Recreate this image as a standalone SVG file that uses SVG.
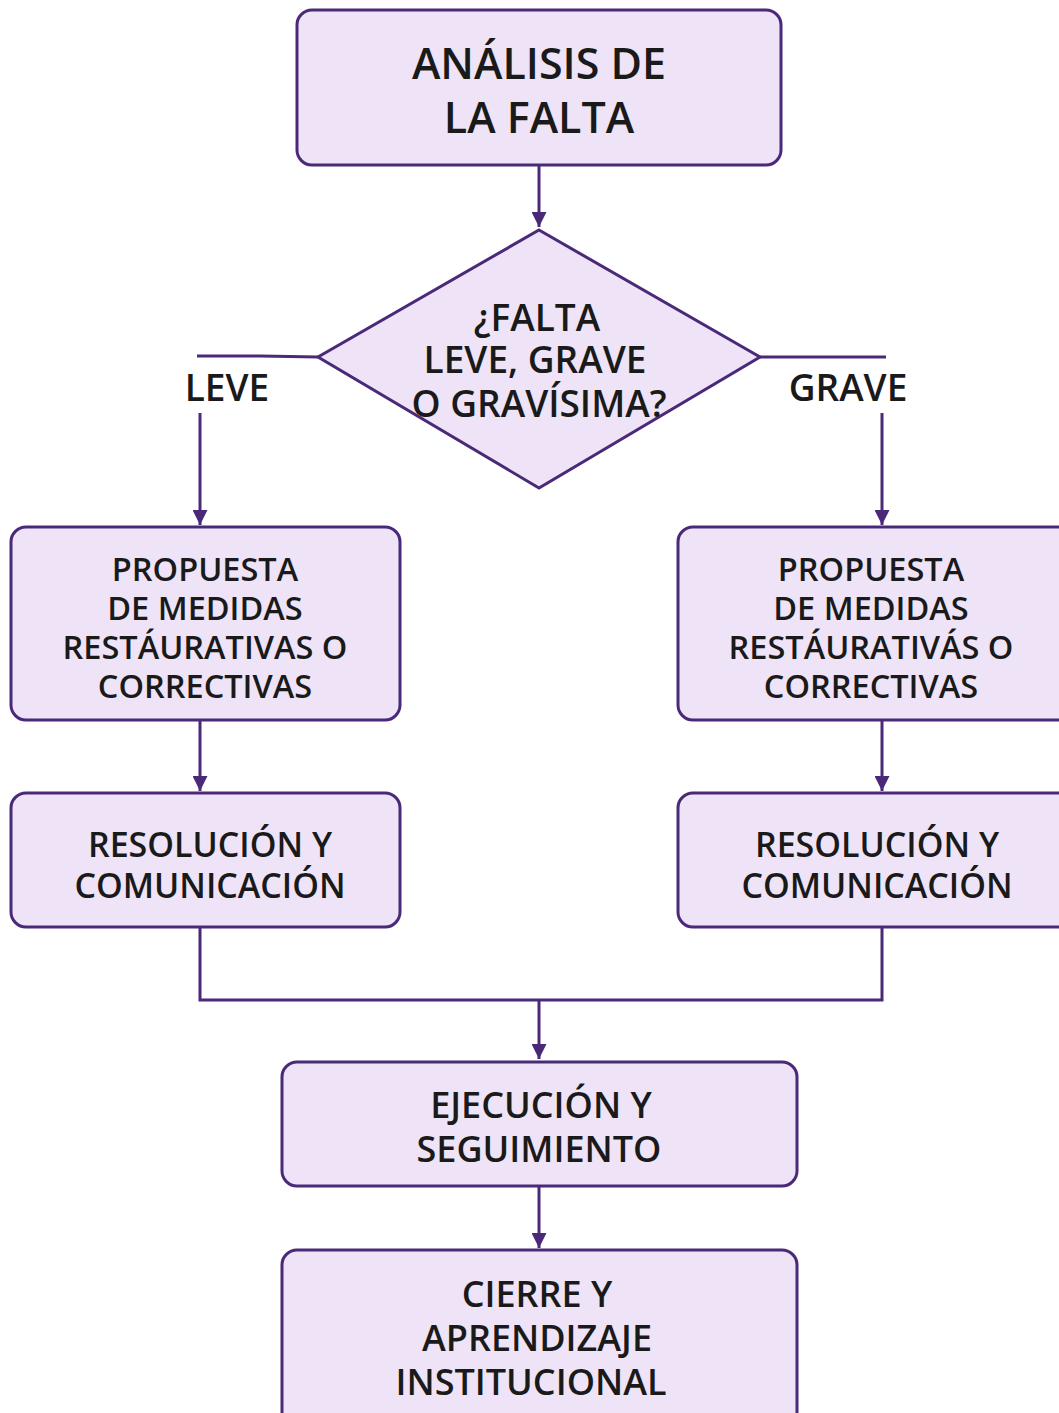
<svg xmlns="http://www.w3.org/2000/svg" width="1059" height="1413" viewBox="0 0 1059 1413">
<defs>
<marker id="ah" viewBox="0 0 10 10" refX="10" refY="5" markerWidth="5" markerHeight="5" markerUnits="strokeWidth" orient="auto">
<path d="M0,0 L10,5 L0,10 z" fill="#4a2a78"/>
</marker>
<style>
.box{fill:#efe4f7;stroke:#4a2a78;stroke-width:3}
.t{font-family:"Open Sans","Noto Sans",sans-serif;font-weight:600;fill:#1a1a1a;text-anchor:middle}
.c{fill:none;stroke:#4a2a78;stroke-width:3}
</style>
</defs>
<rect width="1059" height="1413" fill="#ffffff"/>
<g id="connectors">
<line class="c" x1="539" y1="165" x2="539" y2="227" marker-end="url(#ah)"/>
<polyline class="c" points="318,357 260,356 197,356"/>
<polyline class="c" points="760,357 886,357"/>
<line class="c" x1="200" y1="413" x2="200" y2="525" marker-end="url(#ah)"/>
<line class="c" x1="882" y1="413" x2="882" y2="525" marker-end="url(#ah)"/>
<line class="c" x1="200" y1="720" x2="200" y2="791" marker-end="url(#ah)"/>
<line class="c" x1="882" y1="720" x2="882" y2="791" marker-end="url(#ah)"/>
<polyline class="c" points="200,927 200,1000 882,1000 882,927"/>
<line class="c" x1="539" y1="1000" x2="539" y2="1059" marker-end="url(#ah)"/>
<line class="c" x1="539" y1="1186" x2="539" y2="1248" marker-end="url(#ah)"/>
</g>
<g id="n-analisis">
<rect class="box" x="297" y="10" width="484" height="155" rx="15"/>
<text class="t" font-size="43" x="539" y="79">ANÁLISIS DE</text>
<text class="t" font-size="43" x="539" y="133">LA FALTA</text>
</g>
<g id="n-decision">
<polygon class="box" points="539,230 760,357 539,488 318,357"/>
<text class="t" font-size="37" x="537" y="331">¿FALTA</text>
<text class="t" font-size="37" x="535" y="373">LEVE, GRAVE</text>
<text class="t" font-size="37" x="539" y="417">O GRAVÍSIMA?</text>
</g>
<g id="l-leve"><text class="t" font-size="37" x="227" y="401">LEVE</text></g>
<g id="l-grave"><text class="t" font-size="37" x="848" y="401">GRAVE</text></g>
<g id="n-prop-l">
<rect class="box" x="11" y="527" width="389" height="193" rx="15"/>
<text class="t" font-size="32.5" x="205" y="581">PROPUESTA</text>
<text class="t" font-size="32.5" x="205" y="620">DE MEDIDAS</text>
<text class="t" font-size="32.5" x="205" y="659">RESTÁURATIVAS O</text>
<text class="t" font-size="32.5" x="205" y="698">CORRECTIVAS</text>
</g>
<g id="n-prop-r">
<rect class="box" x="678" y="527" width="395" height="193" rx="15"/>
<text class="t" font-size="32.5" x="871" y="581">PROPUESTA</text>
<text class="t" font-size="32.5" x="871" y="620">DE MEDIDAS</text>
<text class="t" font-size="32.5" x="871" y="659">RESTÁURATIVÁS O</text>
<text class="t" font-size="32.5" x="871" y="698">CORRECTIVAS</text>
</g>
<g id="n-res-l">
<rect class="box" x="11" y="793" width="389" height="134" rx="15"/>
<text class="t" font-size="34" x="210" y="857">RESOLUCIÓN Y</text>
<text class="t" font-size="34" x="210" y="898">COMUNICACIÓN</text>
</g>
<g id="n-res-r">
<rect class="box" x="678" y="793" width="395" height="134" rx="15"/>
<text class="t" font-size="34" x="877" y="857">RESOLUCIÓN Y</text>
<text class="t" font-size="34" x="877" y="898">COMUNICACIÓN</text>
</g>
<g id="n-ejec">
<rect class="box" x="282" y="1062" width="515" height="124" rx="15"/>
<text class="t" font-size="36" x="541" y="1118">EJECUCIÓN Y</text>
<text class="t" font-size="36" x="539" y="1162">SEGUIMIENTO</text>
</g>
<g id="n-cierre">
<rect class="box" x="282" y="1250" width="515" height="180" rx="15"/>
<text class="t" font-size="36" x="537" y="1307">CIERRE Y</text>
<text class="t" font-size="36" x="537" y="1351">APRENDIZAJE</text>
<text class="t" font-size="36" x="531" y="1395">INSTITUCIONAL</text>
</g>
</svg>
